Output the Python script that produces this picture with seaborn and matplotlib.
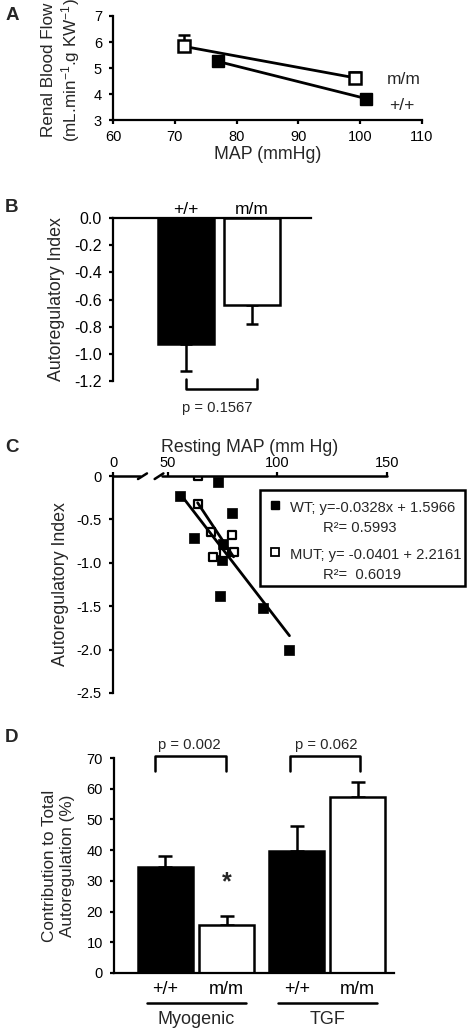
import matplotlib
matplotlib.use("Agg")
import matplotlib.pyplot as plt
import seaborn as sns
import pandas as pd
from matplotlib.patches import Rectangle
from matplotlib.lines import Line2D

# A: renal blood flow vs MAP
map_wt = [77.0, 101.0]
rbf_wt = [5.25, 3.82]
rbf_wt_err = [0.15, 0.17]
map_mut = [71.5, 99.2]
rbf_mut = [5.83, 4.62]
rbf_mut_err = [0.43, 0.24]

# B: autoregulatory index
genotypes = ["+/+", "m/m"]
ari_mean = [-0.93, -0.64]
ari_err = [0.20, 0.14]

# C: resting MAP vs autoregulatory index
wt_map = [55.5, 72.7, 79.5, 61.8, 75.0, 74.5, 73.6, 93.6, 105.5]
wt_ari = [-0.23, -0.07, -0.43, -0.72, -0.78, -0.97, -1.38, -1.52, -2.01]
mut_map = [63.6, 64.0, 69.5, 79.5, 70.5, 75.5, 80.0]
mut_ari = [0.0, -0.32, -0.65, -0.68, -0.93, -0.89, -0.87]

# D: contribution to total autoregulation
mechanisms = ["Myogenic", "Myogenic", "TGF", "TGF"]
geno_d = ["+/+", "m/m", "+/+", "m/m"]
contrib = [34.5, 15.6, 39.6, 57.3]
contrib_err = [3.6, 3.0, 8.3, 4.9]

sns.set_style("ticks")
plt.rcParams["font.family"] = ["Liberation Sans", "DejaVu Sans"]
plt.rcParams["mathtext.fontset"] = "custom"
plt.rcParams["mathtext.rm"] = "Liberation Sans"
plt.rcParams["mathtext.it"] = "Liberation Sans:italic"
plt.rcParams["axes.unicode_minus"] = False
plt.rcParams["axes.linewidth"] = 1.6
plt.rcParams["xtick.major.width"] = 1.6
plt.rcParams["ytick.major.width"] = 1.6
plt.rcParams["xtick.major.size"] = 3
plt.rcParams["ytick.major.size"] = 3
plt.rcParams["xtick.major.pad"] = 4.5
plt.rcParams["ytick.major.pad"] = 5
plt.rcParams["xtick.labelsize"] = 10.5
plt.rcParams["ytick.labelsize"] = 10.5
plt.rcParams["xtick.color"] = "black"
plt.rcParams["ytick.color"] = "black"
plt.rcParams["axes.edgecolor"] = "black"

W, H = 468, 1030
fig = plt.figure(figsize=(W / 100, H / 100), dpi=100)


def box(l, t, r, b):
    return [l / W, 1 - b / H, (r - l) / W, (b - t) / H]


def fx(px):
    return px / W


def fy(py):
    return 1 - py / H


LW = 1.8
lab_fs = 12.8

# ---- A ----
axA = fig.add_axes(box(113, 16, 422, 120))
axA.errorbar(map_mut, rbf_mut, yerr=[[0, 0], rbf_mut_err], fmt="none",
             ecolor="black", elinewidth=LW, capsize=4, capthick=LW, zorder=1)
axA.errorbar(map_wt, rbf_wt, yerr=[[0, 0], rbf_wt_err], fmt="none",
             ecolor="black", elinewidth=LW, capsize=4, capthick=LW, zorder=1)
sns.lineplot(x=map_mut, y=rbf_mut, ax=axA, color="black", linewidth=2,
             marker="s", markersize=8, markerfacecolor="white",
             markeredgecolor="black", markeredgewidth=1.8, zorder=3)
sns.lineplot(x=map_wt, y=rbf_wt, ax=axA, color="black", linewidth=2,
             marker="s", markersize=8, markerfacecolor="black",
             markeredgecolor="black", markeredgewidth=1.0, zorder=3)
axA.set_xlim(60, 110)
axA.set_ylim(3, 7)
axA.set_xticks(range(60, 111, 10))
axA.set_yticks(range(3, 8))
axA.set_xlabel("MAP (mmHg)", fontsize=lab_fs, labelpad=1)
axA.set_ylabel("Renal Blood Flow\n(mL.min$^{-1}$.g KW$^{-1}$)", fontsize=12.3,
               linespacing=1.2)
axA.yaxis.set_label_coords(-0.1, 0.48)
axA.text(104.3, 4.55, "m/m", fontsize=12.5, va="center")
axA.text(104.6, 3.55, "+/+", fontsize=12.5, va="center")
sns.despine(ax=axA)

# ---- B ----
axB = fig.add_axes(box(113, 218, 311, 381))
dfB = pd.DataFrame({"genotype": genotypes, "ari": ari_mean})
sns.barplot(data=dfB, x="genotype", y="ari", hue="genotype",
            palette={"+/+": "black", "m/m": "white"}, edgecolor="black",
            linewidth=LW, width=0.85, ax=axB, legend=False, zorder=2)
axB.errorbar([0, 1], ari_mean, yerr=[ari_err, [0, 0]], fmt="none",
             ecolor="black", elinewidth=LW, capsize=4, capthick=LW, zorder=1)
axB.set_xlim(-1.106, 1.894)
axB.set_ylim(-1.2, 0)
axB.set_yticks([0, -0.2, -0.4, -0.6, -0.8, -1.0, -1.2])
axB.set_yticklabels(["0.0", "-0.2", "-0.4", "-0.6", "-0.8", "-1.0", "-1.2"])
axB.tick_params(axis="y", labelsize=11.5)
axB.xaxis.tick_top()
axB.tick_params(axis="x", length=0, labelsize=12.5, pad=1)
axB.set_xlabel("")
axB.set_ylabel("Autoregulatory Index", fontsize=lab_fs)
axB.yaxis.set_label_coords(-0.24, 0.5)
for s in ["bottom", "right"]:
    axB.spines[s].set_visible(False)
axB.plot([0, 0, 1.07, 1.07], [-1.185, -1.259, -1.259, -1.185], color="black",
         lw=LW, clip_on=False)
axB.text(0.48, -1.40, "p = 0.1567", ha="center", va="center", fontsize=10.6,
         clip_on=False)

# ---- C ----
axC = fig.add_axes(box(113, 476, 387, 693))
sns.scatterplot(x=wt_map, y=wt_ari, ax=axC, marker="s", s=60, color="black",
                edgecolor="black", linewidth=0.5, zorder=2)
sns.scatterplot(x=mut_map, y=mut_ari, ax=axC, marker="s", s=38, color="white",
                edgecolor="black", linewidth=1.6, zorder=2)
sns.regplot(x=wt_map, y=wt_ari, ax=axC, scatter=False, ci=None, truncate=True,
            line_kws=dict(color="black", lw=2, zorder=3))
sns.regplot(x=mut_map, y=mut_ari, ax=axC, scatter=False, ci=None, truncate=True,
            line_kws=dict(color="black", lw=2, zorder=3))
axC.set_xlim(25, 150)
axC.set_ylim(-2.5, 0)
axC.xaxis.tick_top()
axC.xaxis.set_label_position("top")
axC.set_xticks([25, 50, 100, 150])
axC.set_xticklabels(["0", "50", "100", "150"])
axC.tick_params(axis="x", pad=1)
axC.set_yticks([0, -0.5, -1.0, -1.5, -2.0, -2.5])
axC.set_yticklabels(["0", "-0.5", "-1.0", "-1.5", "-2.0", "-2.5"])
axC.set_xlabel("Resting MAP (mm Hg)", fontsize=lab_fs, labelpad=3)
axC.set_ylabel("Autoregulatory Index", fontsize=lab_fs)
axC.yaxis.set_label_coords(-0.16, 0.5)
for s in ["top", "bottom", "right"]:
    axC.spines[s].set_visible(False)
# broken top axis
axC.plot([25, 37.2], [0, 0], color="black", lw=LW, clip_on=False)
axC.plot([47.5, 150], [0, 0], color="black", lw=LW, clip_on=False)
axC.plot([36.4, 40.5], [-0.035, 0.03], color="black", lw=LW, clip_on=False)
axC.plot([44.0, 48.0], [-0.035, 0.03], color="black", lw=LW, clip_on=False)
axC.set_xlim(25, 150)
axC.set_ylim(-2.5, 0)

# legend box
fig.add_artist(Rectangle((fx(260), fy(586)), fx(465) - fx(260), fy(490) - fy(586),
                         transform=fig.transFigure, fill=False, edgecolor="black",
                         lw=LW))
fig.add_artist(Line2D([fx(275)], [fy(505)], transform=fig.transFigure, marker="s",
                      markersize=6, color="black", linestyle="none"))
fig.add_artist(Line2D([fx(275)], [fy(552)], transform=fig.transFigure, marker="s",
                      markersize=5.5, markerfacecolor="white", markeredgecolor="black",
                      markeredgewidth=1.3, linestyle="none"))
leg_fs = 10.6
fig.text(fx(290), fy(508), "WT; y=-0.0328x + 1.5966", fontsize=leg_fs, va="center")
fig.text(fx(323), fy(528), "R²= 0.5993", fontsize=leg_fs, va="center")
fig.text(fx(290), fy(555), "MUT; y= -0.0401 + 2.2161", fontsize=leg_fs, va="center")
fig.text(fx(323), fy(575), "R²=  0.6019", fontsize=leg_fs, va="center")

# ---- D ----
axD = fig.add_axes(box(114, 758, 394, 973))
dfD = pd.DataFrame({"mech": mechanisms, "geno": geno_d, "val": contrib})
sns.barplot(data=dfD, x="mech", y="val", hue="geno",
            palette={"+/+": "black", "m/m": "white"}, edgecolor="black",
            linewidth=LW, width=0.93, gap=0.1, ax=axD, legend=False, zorder=2)
bars = sorted(axD.patches, key=lambda p: p.get_x())
centers = [p.get_x() + p.get_width() / 2 for p in bars]
axD.errorbar(centers, contrib, yerr=[[0] * 4, contrib_err], fmt="none",
             ecolor="black", elinewidth=LW, capsize=5, capthick=LW, zorder=1)
axD.set_xlim(-0.625, 1.509)
axD.set_ylim(0, 70)
axD.set_yticks(range(0, 71, 10))
axD.set_xticks(centers)
axD.set_xticklabels(geno_d, fontsize=13)
axD.tick_params(axis="x", length=0, pad=6)
axD.set_xlabel("")
axD.set_ylabel("Contribution to Total\nAutoregulation (%)", fontsize=12.3,
               linespacing=1.2)
axD.yaxis.set_label_coords(-0.14, 0.5)
sns.despine(ax=axD)
# significance brackets
axD.plot([-0.31, -0.31, 0.23, 0.23], [65.8, 70.6, 70.6, 65.8], color="black",
         lw=LW, clip_on=False)
axD.plot([0.716, 0.716, 1.25, 1.25], [65.8, 70.6, 70.6, 65.8], color="black",
         lw=LW, clip_on=False)
axD.text(-0.05, 74.3, "p = 0.002", ha="center", va="center", fontsize=10.6,
         clip_on=False)
axD.text(0.99, 74.3, "p = 0.062", ha="center", va="center", fontsize=10.6,
         clip_on=False)
axD.text(centers[1], 29.5, "*", ha="center", va="center", fontsize=18,
         fontweight="bold")
# group labels
for c0, name in [(0, "Myogenic"), (1, "TGF")]:
    axD.plot([c0 - 0.373, c0 + 0.378], [-9.8, -9.8], color="black", lw=LW,
             clip_on=False)
    axD.text(c0, -15.3, name, ha="center", va="center", fontsize=13,
             clip_on=False)

# panel letters
for letter, py in [("A", 15), ("B", 207), ("C", 448), ("D", 738)]:
    fig.text(fx(12), fy(py), letter, fontsize=13.5, fontweight="bold",
             ha="center", va="center")

fig.savefig("out.png", dpi=100)
